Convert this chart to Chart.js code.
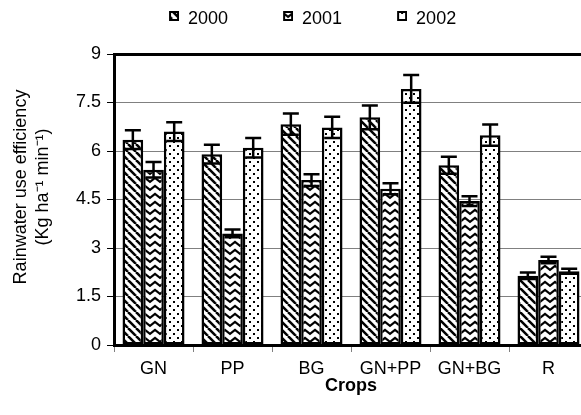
<!DOCTYPE html>
<html>
<head>
<meta charset="utf-8">
<script src="https://cdn.jsdelivr.net/npm/chart.js@4.4.0/dist/chart.umd.min.js"></script>
<style>
  html, body { margin: 0; padding: 0; overflow: hidden; background: #fff; }
  canvas { display: block; }
</style>
</head>
<body>
<canvas id="chart" width="588" height="415"></canvas>
<script>
// values (rainwater use efficiency, mean and error)
const crops = ["GN", "PP", "BG", "GN+PP", "GN+BG", "R"];
const years = ["2000", "2001", "2002"];
const rue2000 = [6.35, 5.9, 6.83, 7.04, 5.56, 2.14];
const rue2001 = [5.42, 3.45, 5.1, 4.83, 4.45, 2.63];
const rue2002 = [6.6, 6.1, 6.73, 7.92, 6.49, 2.28];
const err2000 = [0.29, 0.29, 0.33, 0.37, 0.26, 0.1];
const err2001 = [0.24, 0.12, 0.18, 0.17, 0.15, 0.1];
const err2002 = [0.29, 0.3, 0.33, 0.43, 0.33, 0.08];
const yTicks = [0, 1.5, 3, 4.5, 6, 7.5, 9];

Chart.defaults.font.family = "'Liberation Sans', Arial, sans-serif";
Chart.defaults.color = "#000";

// small tiles for the black and white hatch fills
function makeTile(w, h, draw) {
  const c = document.createElement("canvas");
  c.width = w;
  c.height = h;
  const g = c.getContext("2d");
  g.fillStyle = "#fff";
  g.fillRect(0, 0, w, h);
  g.fillStyle = "#000";
  g.strokeStyle = "#000";
  draw(g);
  return c;
}

const tiles = [
  makeTile(8, 8, (g) => {
    g.lineWidth = 2.5;
    for (const o of [-8, 0, 8]) {
      g.beginPath();
      g.moveTo(o, 0);
      g.lineTo(o + 8, 8);
      g.stroke();
    }
  }),
  makeTile(10, 8, (g) => {
    g.lineWidth = 2.2;
    g.beginPath();
    g.moveTo(-1, 6.6);
    g.lineTo(5, 2);
    g.lineTo(11, 6.6);
    g.stroke();
  }),
  makeTile(8, 8, (g) => {
    g.fillRect(1, 1, 2, 2);
    g.fillRect(5, 5, 2, 2);
  }),
];

// legend marker: square sits at the right end of a wide transparent image
function legendIcon(tile) {
  const c = document.createElement("canvas");
  c.width = 55;
  c.height = 16;
  const g = c.getContext("2d");
  g.fillStyle = g.createPattern(tile, "repeat");
  g.fillRect(45, 0, 10, 10);
  g.strokeStyle = "#000";
  g.lineWidth = 2;
  g.strokeRect(46, 1, 8, 8);
  return c;
}
const icons = tiles.map(legendIcon);

const ctx = document.getElementById("chart").getContext("2d");
const fills = tiles.map((t) => ctx.createPattern(t, "repeat"));

const errorBars = {
  id: "errorBars",
  afterDatasetsDraw(chart) {
    const c = chart.ctx;
    const y = chart.scales.y;
    chart.data.datasets.forEach((ds, i) => {
      chart.getDatasetMeta(i).data.forEach((bar, j) => {
        const v = ds.data[j];
        const e = ds.errors[j];
        const top = y.getPixelForValue(v + e);
        const bot = y.getPixelForValue(v - e);
        c.save();
        c.strokeStyle = "#000";
        c.lineWidth = 2.5;
        c.beginPath();
        c.moveTo(bar.x, top);
        c.lineTo(bar.x, bot);
        c.moveTo(bar.x - 8, top);
        c.lineTo(bar.x + 8, top);
        c.moveTo(bar.x - 8, bot);
        c.lineTo(bar.x + 8, bot);
        c.stroke();
        c.restore();
      });
    });
  },
};

const values = [rue2000, rue2001, rue2002];
const errors = [err2000, err2001, err2002];

new Chart(ctx, {
  type: "bar",
  data: {
    labels: crops,
    datasets: years.map((yr, i) => ({
      label: yr,
      data: values[i],
      errors: errors[i],
      backgroundColor: fills[i],
      borderColor: "#000",
      borderWidth: 2.5,
      borderSkipped: false,
      categoryPercentage: 0.785,
      barPercentage: 1.0,
    })),
  },
  options: {
    responsive: false,
    animation: false,
    devicePixelRatio: 1,
    layout: { padding: { left: 0, right: 0, top: 0, bottom: 20 } },
    scales: {
      x: {
        ticks: { color: "#000", padding: 8, font: { size: 18, lineHeight: 1 } },
        grid: { drawOnChartArea: false, tickLength: 7, color: "#808080", offset: true },
        border: { color: "#000", width: 3 },
        title: {
          display: true,
          text: "Crops",
          color: "#000",
          padding: { top: -9, bottom: 0 },
          font: { size: 18, weight: "bold", lineHeight: 1 },
        },
      },
      y: {
        min: 0,
        max: 9,
        afterBuildTicks: (s) => {
          s.ticks = yTicks.map((v) => ({ value: v }));
        },
        ticks: { color: "#000", padding: 6, font: { size: 18 } },
        grid: {
          color: (c) => (c.tick && c.tick.value === 9 ? "#000" : "#808080"),
          lineWidth: (c) => (c.tick && c.tick.value === 9 ? 3 : 1),
          tickLength: 7,
          tickWidth: 1,
          tickColor: "#000",
        },
        border: { color: "#000", width: 3 },
        title: {
          display: true,
          text: ["     Rainwater use efficiency", "     (Kg ha\u207B\u00B9 min\u207B\u00B9)"],
          color: "#000",
          font: { size: 18, lineHeight: 1.25 },
          padding: { top: 9.5, bottom: 15.5 },
        },
      },
    },
    plugins: {
      legend: {
        position: "top",
        align: "start",
        fullSize: false,
        labels: {
          usePointStyle: true,
          pointStyleWidth: 55,
          padding: 10,
          color: "#000",
          font: { size: 18 },
          generateLabels: (chart) =>
            Chart.defaults.plugins.legend.labels
              .generateLabels(chart)
              .map((item, i) => Object.assign(item, { pointStyle: icons[i] })),
        },
      },
      // empty title used only as a gap between legend and plot
      title: { display: true, text: "", weight: 500, padding: 0, font: { size: 16, lineHeight: 1 } },
      tooltip: { enabled: false },
    },
  },
  plugins: [errorBars],
});
</script>
</body>
</html>
